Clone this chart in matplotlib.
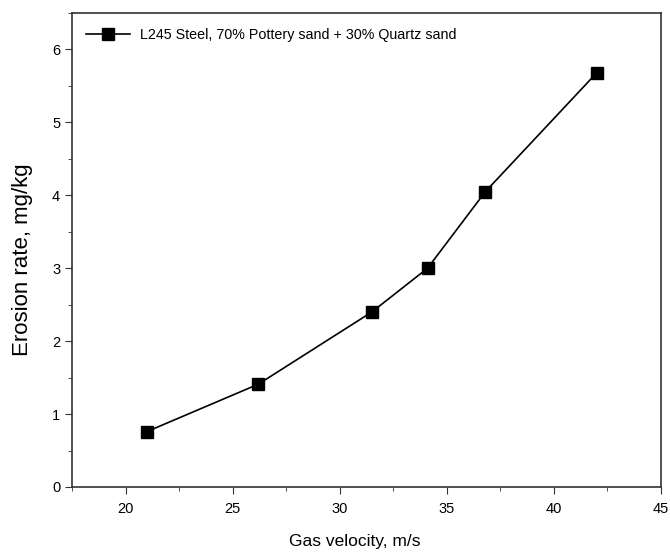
import matplotlib.pyplot as plt
from matplotlib.ticker import MultipleLocator

plt.rcParams['font.family'] = ['Liberation Sans', 'DejaVu Sans']

velocity = [21.0, 26.2, 31.5, 34.1, 36.8, 42.0]
erosion = [0.76, 1.41, 2.40, 3.00, 4.05, 5.68]
label = 'L245 Steel, 70% Pottery sand + 30% Quartz sand'

fig = plt.figure(figsize=(6.7, 5.53), dpi=100)
ax = fig.add_axes([72 / 670, 1 - 487 / 553, 589 / 670, 474 / 553])

ax.plot(velocity, erosion, color='black', lw=1.2, marker='s', ms=8,
        markerfacecolor='black', label=label)

ax.set_xlim(17.5, 45)
ax.set_ylim(0, 6.5)
ax.xaxis.set_major_locator(MultipleLocator(5))
ax.xaxis.set_minor_locator(MultipleLocator(2.5))
ax.yaxis.set_major_locator(MultipleLocator(1))
ax.yaxis.set_minor_locator(MultipleLocator(0.5))
ax.tick_params(which='both', direction='out', top=False, right=False,
               labelsize=10.5, color='#333333')
ax.tick_params(axis='x', pad=6)
ax.tick_params(which='major', length=5)
ax.tick_params(which='minor', length=3)
for s in ax.spines.values():
    s.set_color('#333333')
    s.set_linewidth(1.2)

ax.set_xlabel('Gas velocity, m/s', fontsize=12.5)
ax.xaxis.set_label_coords(0.48, -0.1)
ax.set_ylabel('Erosion rate, mg/kg', fontsize=16)
ax.yaxis.set_label_coords(-0.066, 0.479)

ax.legend(loc='upper left', frameon=False, fontsize=10.3, handlelength=3.1,
          handletextpad=0.7, borderpad=0, borderaxespad=0,
          bbox_to_anchor=(0.024, 0.968))

fig.savefig('out.png', dpi=100)
